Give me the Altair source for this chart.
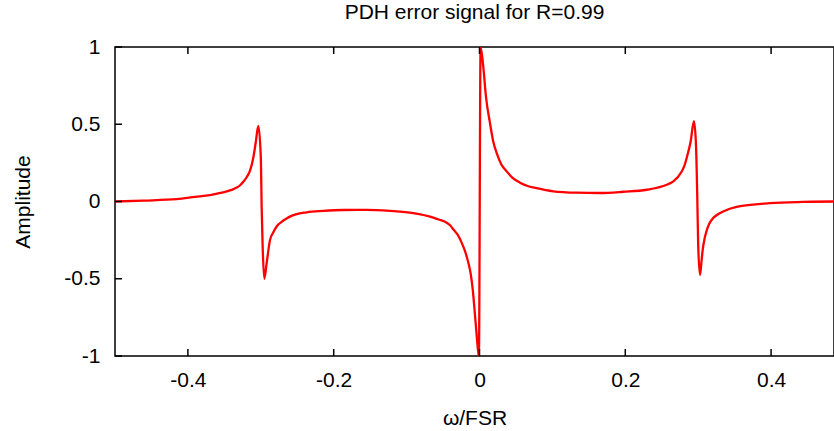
import altair as alt
import pandas as pd

# Values
x_vals = [-0.5, -0.461, -0.4154, -0.39, -0.3697, -0.3468, -0.34, -0.333, -0.328, -0.324,
          -0.319, -0.3148, -0.310, -0.307, -0.3034, -0.300, -0.2988, -0.2974, -0.2952, -0.292,
          -0.2874, -0.283, -0.278, -0.271, -0.2645, -0.26, -0.237, -0.2143, -0.1868, -0.1548,
          -0.1228, -0.0908, -0.0634, -0.055, -0.045, -0.04, -0.036, -0.03, -0.0245, -0.02,
          -0.0153, -0.012, -0.0093, -0.0053, -0.0016, -0.0008, 0.0015, 0.0052, 0.0089, 0.0144,
          0.019, 0.0236, 0.03, 0.0373, 0.045, 0.0556, 0.065, 0.0784, 0.1012, 0.1333,
          0.1653, 0.1973, 0.2293, 0.2568, 0.2659, 0.2772, 0.281, 0.2841, 0.2896, 0.2942,
          0.297, 0.2987, 0.300, 0.3025, 0.3045, 0.306, 0.309, 0.3115, 0.315, 0.32, 0.3252,
          0.335, 0.3527, 0.3985, 0.444, 0.4853, 0.5]
y_vals = [0.0, 0.006, 0.015, 0.03, 0.042, 0.065, 0.075, 0.09, 0.107, 0.128,
          0.16, 0.2, 0.29, 0.38, 0.49, 0.29, -0.04, -0.30, -0.50, -0.40,
          -0.25, -0.2, -0.16, -0.13, -0.11, -0.098, -0.07, -0.061, -0.055, -0.054,
          -0.061, -0.075, -0.104, -0.118, -0.137, -0.155, -0.18, -0.215, -0.266, -0.32,
          -0.396, -0.47, -0.568, -0.784, -0.978, -1.0, 1.0, 0.872, 0.678, 0.507,
          0.385, 0.313, 0.24, 0.195, 0.155, 0.122, 0.102, 0.086, 0.066, 0.057,
          0.055, 0.063, 0.076, 0.108, 0.13, 0.193, 0.23, 0.28, 0.387, 0.52,
          0.364, 0.04, -0.28, -0.475, -0.39, -0.32, -0.235, -0.19, -0.145, -0.11, -0.089,
          -0.063, -0.035, -0.011, -0.003, 0.0, 0.0]

x_ticks = [-0.4, -0.2, 0, 0.2, 0.4]
y_ticks = [-1, -0.5, 0, 0.5, 1]

FONT = "Liberation Sans"
W, H = 719, 309

curve = pd.DataFrame({"x": x_vals, "y": y_vals})
xt = pd.DataFrame({"x": x_ticks})
yt = pd.DataFrame({"y": y_ticks})

xscale = alt.Scale(domain=[-0.5, 0.4863], nice=False, zero=False)
yscale = alt.Scale(domain=[-1, 1], nice=False, zero=False)

line = alt.Chart(curve).mark_line(color="#ff0000", strokeWidth=2.3, interpolate="monotone", clip=True).encode(
    x=alt.X("x:Q", scale=xscale, title="ω/FSR",
            axis=alt.Axis(values=x_ticks, labelExpr="'' + datum.value", ticks=False, tickSize=0,
                          domain=False, grid=False, labelFontSize=21, labelFont=FONT,
                          labelColor="black", labelPadding=13, titleFont=FONT, titleFontSize=21,
                          titleFontWeight="normal", titleColor="black", titlePadding=17,
                          labelFlush=False)),
    y=alt.Y("y:Q", scale=yscale, title="Amplitude",
            axis=alt.Axis(values=y_ticks, labelExpr="'' + datum.value", ticks=False, tickSize=0,
                          domain=False, grid=False, labelFontSize=21, labelFont=FONT,
                          labelColor="black", labelPadding=15, titleFont=FONT, titleFontSize=21,
                          titleFontWeight="normal", titleColor="black", titlePadding=30,
                          labelFlush=False)),
)

bottom_ticks = alt.Chart(xt).mark_rule(color="black", strokeWidth=1.5).encode(
    x=alt.X("x:Q", scale=xscale), y=alt.value(H), y2=alt.value(H - 7))
top_ticks = alt.Chart(xt).mark_rule(color="black", strokeWidth=1.5).encode(
    x=alt.X("x:Q", scale=xscale), y=alt.value(0), y2=alt.value(7))
left_ticks = alt.Chart(yt).mark_rule(color="black", strokeWidth=1.5).encode(
    y=alt.Y("y:Q", scale=yscale), x=alt.value(0), x2=alt.value(7))

chart = alt.layer(line, bottom_ticks, top_ticks, left_ticks).properties(
    width=W, height=H,
    title=alt.TitleParams("PDH error signal for R=0.99", font=FONT, fontSize=21,
                          fontWeight="normal", color="black", anchor="middle", offset=13),
    autosize=alt.AutoSizeParams(type="none"),
    padding={"left": 115, "top": 47, "right": 0, "bottom": 75},
    background="white",
).configure_view(stroke="black", strokeWidth=1.5)

chart.save("out.html", embed_options={"renderer": "svg", "actions": False})
